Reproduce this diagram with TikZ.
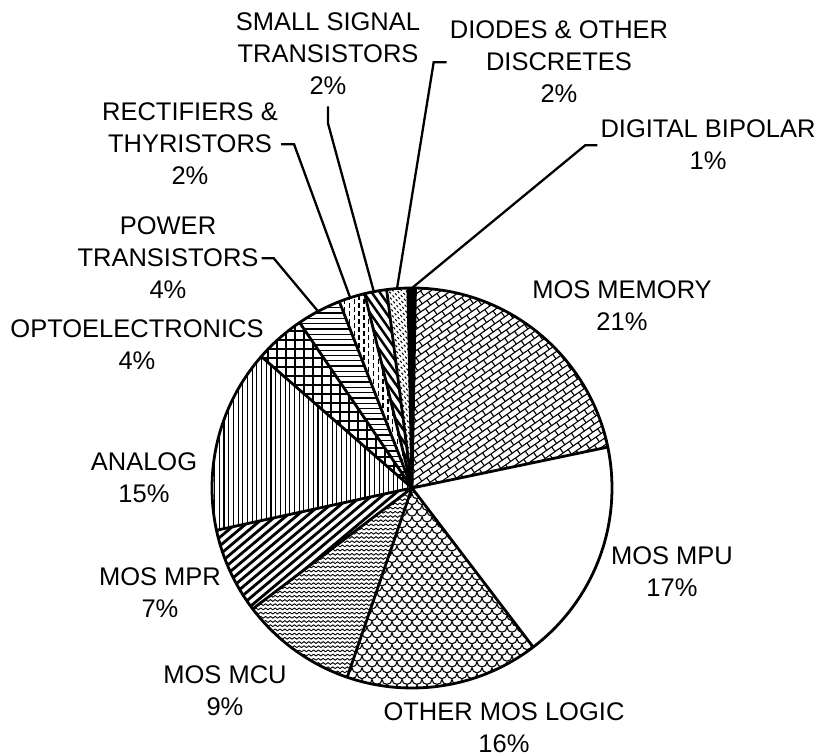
\documentclass[tikz,border=0pt]{standalone}
\usepackage{fontspec}
\setmainfont{Liberation Sans}

% one wedge of the pie, from angle #1 clockwise to angle #2
\newcommand{\slicepath}[2]{(0,0) -- (#1:200pt) arc[start angle=#1, end angle=#2, radius=200pt] -- cycle}

\begin{document}
\begin{tikzpicture}[x=1pt, y=1pt,
  outline/.style={line width=2.8pt, line join=round},
  leader/.style={line width=2.3pt},
  hatch/.style={line width=1.1pt},
  bold hatch/.style={line width=2.8pt},
  lbl/.style={align=center, anchor=base, inner sep=3pt, font=\fontsize{25.5pt}{32pt}\selectfont}
]
  \useasboundingbox (-412,-266) rectangle (410,488);

  % MOS memory: tilted bricks
  \begin{scope}
    \clip \slicepath{89}{11.8};
    \begin{scope}[rotate=35]
      \foreach \j in {-36,...,36}{
        \pgfmathsetmacro\yy{\j*5.8}
        \pgfmathsetmacro\off{6*mod(\j+100,2)}
        \draw[hatch] (-220,\yy) -- (220,\yy);
        \foreach \i in {-19,...,19}
          \draw[hatch] ({\i*12+\off},\yy) -- ++(0,5.8);
      }
    \end{scope}
  \end{scope}

  % other MOS logic: scales
  \begin{scope}
    \clip \slicepath{-52.7}{-108.9};
    \foreach \j in {0,...,36}{
      \pgfmathsetmacro\yy{-\j*5.8}
      \pgfmathsetmacro\off{5*mod(\j,2)}
      \foreach \i in {-8,...,14}
        \draw[hatch] ({\i*10+\off-5},\yy) arc[start angle=180, end angle=360, radius=5pt];
    }
  \end{scope}

  % MOS MCU: fine zigzag rows
  \begin{scope}
    \clip \slicepath{-108.9}{-142.8};
    \foreach \j in {0,...,46}
      \draw[line width=0.9pt, line join=round] (-168,-\j*4.2)
        \foreach \k in {1,...,36}{ -- ++(2.4,1.8) -- ++(2.4,-1.8) };
  \end{scope}

  % MOS MPR: heavy stripes
  \begin{scope}
    \clip \slicepath{-142.8}{-167.8};
    \begin{scope}[rotate=40]
      \foreach \j in {-32,...,32}
        \draw[bold hatch] (-220,\j*6.6) -- (220,\j*6.6);
    \end{scope}
  \end{scope}

  % analog: vertical lines
  \begin{scope}
    \clip \slicepath{-167.8}{-221.1};
    \foreach \i in {0,...,43}
      \draw[hatch] (-\i*4.7,-210) -- ++(0,420);
  \end{scope}

  % optoelectronics: grid
  \begin{scope}
    \clip \slicepath{138.9}{124.2};
    \foreach \i in {0,...,18}{
      \draw[hatch] (-\i*9,0) -- ++(0,210);
      \draw[hatch] (-170,\i*9+4) -- ++(180,0);
    }
  \end{scope}

  % power transistors: horizontal lines
  \begin{scope}
    \clip \slicepath{124.2}{111.3};
    \foreach \i in {0,...,39}
      \draw[line width=1.3pt] (-130,\i*5.3) -- ++(140,0);
  \end{scope}

  % rectifiers: staggered vertical dashes
  \begin{scope}
    \clip \slicepath{111.3}{103.7};
    \foreach \i in {0,...,16}{
      \pgfmathsetmacro\ph{4*mod(\i,2)}
      \draw[line width=1.4pt, dash pattern=on 4.5pt off 3.5pt, dash phase=\ph pt] (-\i*4.8,0) -- ++(0,210);
    }
  \end{scope}

  % small signal: heavy back-slanted stripes
  \begin{scope}
    \clip \slicepath{103.7}{97.3};
    \begin{scope}[rotate=-55]
      \foreach \j in {-32,...,32}
        \draw[line width=2.5pt] (-220,\j*6.6) -- (220,\j*6.6);
    \end{scope}
  \end{scope}

  % diodes: short slanted dashes
  \begin{scope}
    \clip \slicepath{97.3}{91.2};
    \begin{scope}[rotate=-50]
      \foreach \j in {-62,...,62}
        \draw[line width=1pt, dash pattern=on 2.5pt off 2.5pt] (-220,\j*3.3) -- (220,\j*3.3);
    \end{scope}
  \end{scope}

  % digital bipolar: solid
  \fill \slicepath{91.2}{89};

  % outline and slice borders
  \draw[outline] (0,0) circle[radius=200pt];
  \foreach \a in {89,11.8,-52.7,-108.9,-142.8,-167.8,138.9,124.2,111.3,103.7,97.3,91.2}
    \draw[outline] (0,0) -- (\a:200pt);

  % labels (placed at the baseline of their last line)
  \node[lbl] (mem) at (210,157) {MOS MEMORY\\21\%};
  \node[lbl] (mpu) at (260,-109) {MOS MPU\\17\%};
  \node[lbl] (oml) at (92,-265) {OTHER MOS LOGIC\\16\%};
  \node[lbl] (mcu) at (-187,-228) {MOS MCU\\9\%};
  \node[lbl] (mpr) at (-252,-130) {MOS MPR\\7\%};
  \node[lbl] (ana) at (-268,-15) {ANALOG\\15\%};
  \node[lbl] (opto) at (-275,118) {OPTOELECTRONICS\\4\%};
  \node[lbl] (pwr) at (-244,189) {POWER\\TRANSISTORS\\4\%};
  \node[lbl] (rect) at (-222,303) {RECTIFIERS \&\\THYRISTORS\\2\%};
  \node[lbl] (sst) at (-84,393) {SMALL SIGNAL\\TRANSISTORS\\2\%};
  \node[lbl] (dio) at (147,385) {DIODES \& OTHER\\DISCRETES\\2\%};
  \node[lbl] (dbp) at (296,318) {DIGITAL BIPOLAR\\1\%};

  % leader lines to the thin slices
  \coordinate (pwr edge) at (118:200pt);
  \coordinate (rect edge) at (108:200pt);
  \coordinate (sst edge) at (101:200pt);
  \coordinate (dio edge) at (94.3:200pt);
  \coordinate (dbp edge) at (90:200pt);
  \draw[leader] (pwr.east) -- ++(12,0) -- (pwr edge);
  \draw[leader] (rect.east) -- ++(13,0) -- (rect edge);
  \draw[leader] (sst.south) ++(0,-8) -- ++(0,-17) -- (sst edge);
  \draw[leader] (dio.west) -- ++(-13,0) -- (dio edge);
  \draw[leader] (dbp.west) -- ++(-12,0) -- (dbp edge);
\end{tikzpicture}
\end{document}
